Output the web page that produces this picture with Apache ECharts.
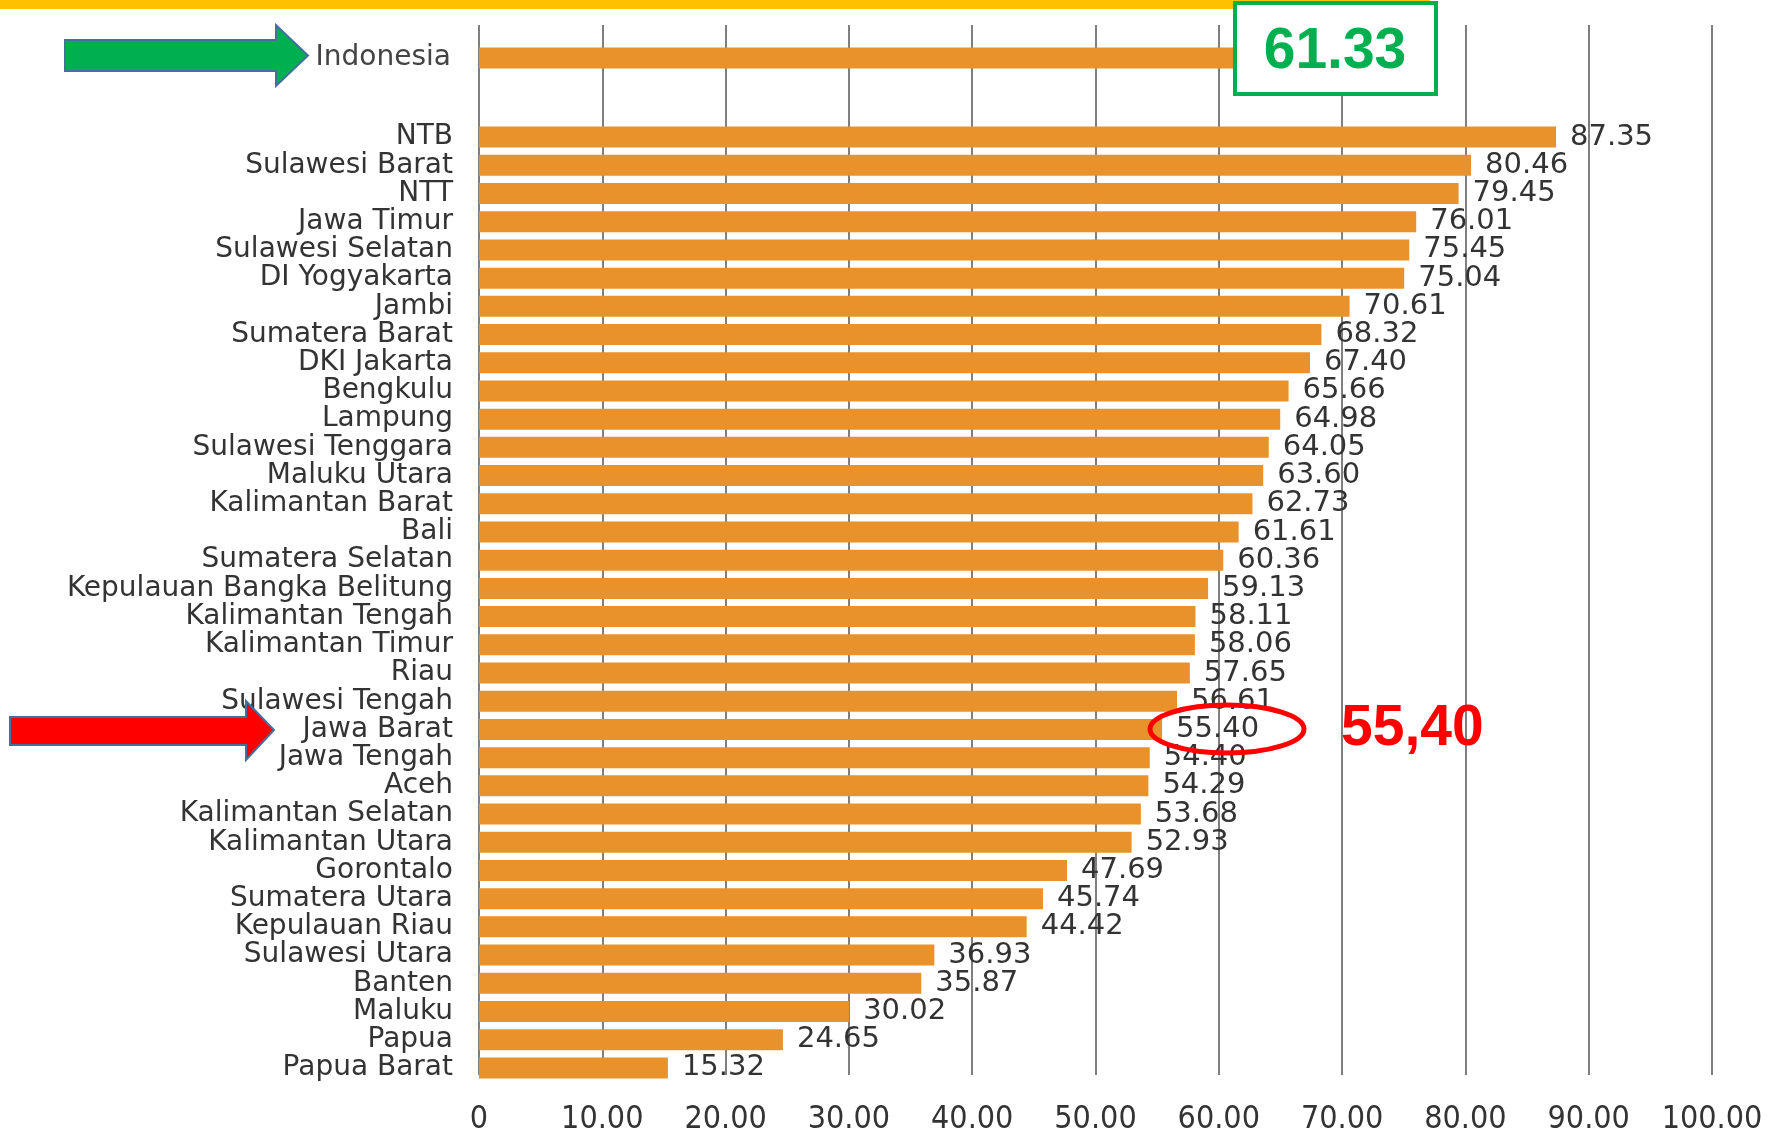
<!DOCTYPE html>
<html>
<head>
<meta charset="utf-8">
<script src="https://cdn.jsdelivr.net/npm/echarts@6/dist/echarts.min.js"></script>
<style>
html,body{margin:0;padding:0;background:#fff;}
#chart{width:1790px;height:1136px;}
</style>
</head>
<body>
<div id="chart"></div>
<script>
const nationalLabel = 'Indonesia';
const nationalValue = 61.33;

const provinces = [
  'NTB','Sulawesi Barat','NTT','Jawa Timur','Sulawesi Selatan','DI Yogyakarta','Jambi',
  'Sumatera Barat','DKI Jakarta','Bengkulu','Lampung','Sulawesi Tenggara','Maluku Utara',
  'Kalimantan Barat','Bali','Sumatera Selatan','Kepulauan Bangka Belitung','Kalimantan Tengah',
  'Kalimantan Timur','Riau','Sulawesi Tengah','Jawa Barat','Jawa Tengah','Aceh',
  'Kalimantan Selatan','Kalimantan Utara','Gorontalo','Sumatera Utara','Kepulauan Riau',
  'Sulawesi Utara','Banten','Maluku','Papua','Papua Barat'
];
const provinceValues = [
  87.35,80.46,79.45,76.01,75.45,75.04,70.61,
  68.32,67.40,65.66,64.98,64.05,63.60,
  62.73,61.61,60.36,59.13,58.11,
  58.06,57.65,56.61,55.40,54.40,54.29,
  53.68,52.93,47.69,45.74,44.42,
  36.93,35.87,30.02,24.65,15.32
];
const xTickLabels = ['0','10.00','20.00','30.00','40.00','50.00','60.00','70.00','80.00','90.00','100.00'];
const highlightProvince = 'Jawa Barat';

const BAR = '#E9922B';
const FONT = "'DejaVu Sans', sans-serif";

const chart = echarts.init(document.getElementById('chart'), null, {renderer:'canvas'});
const hv = provinceValues[provinces.indexOf(highlightProvince)];

chart.setOption({
  backgroundColor:'#ffffff',
  animation:false,
  grid:[
    {left:479, right:78, top:25, bottom:46},
    {left:479, right:78, top:44, height:28},
    {left:479, right:78, top:123, height:959}
  ],
  xAxis:[
    {gridIndex:0, type:'value', min:0, max:100, interval:10,
     axisLine:{show:false}, axisTick:{show:false},
     splitLine:{show:true, lineStyle:{color:'#555', width:1.5}},
     axisLabel:{formatter:v=>xTickLabels[Math.round(v/10)], fontSize:32,
       fontFamily:"'DejaVu Sans Condensed','DejaVu Sans',sans-serif", color:'#333', margin:29}},
    {gridIndex:1, type:'value', min:0, max:100, show:false},
    {gridIndex:2, type:'value', min:0, max:100, show:false}
  ],
  yAxis:[
    {gridIndex:0, type:'value', min:0, max:1, show:false},
    {gridIndex:1, type:'category', data:[nationalLabel],
     axisLine:{show:false}, axisTick:{show:false},
     axisLabel:{fontSize:28, fontFamily:FONT, color:'#444', margin:28}},
    {gridIndex:2, type:'category', inverse:true, data:provinces,
     axisLine:{show:false}, axisTick:{show:false},
     axisLabel:{fontSize:28, fontFamily:FONT, color:'#333', margin:26, interval:0}}
  ],
  series:[
    {type:'bar', xAxisIndex:1, yAxisIndex:1, data:[nationalValue], barWidth:21,
     itemStyle:{color:BAR}},
    {type:'bar', xAxisIndex:2, yAxisIndex:2, data:provinceValues, barWidth:21,
     itemStyle:{color:BAR},
     label:{show:true, position:'right', distance:14, formatter:p=>p.value.toFixed(2),
       fontSize:29, fontFamily:FONT, color:'#333'}}
  ],
  graphic:[
    {type:'rect', z:100, shape:{x:0, y:0, width:1430, height:9}, style:{fill:'#FFC000'}},
    {type:'rect', z:101, shape:{x:1235, y:3, width:201, height:91},
     style:{fill:'#ffffff', stroke:'#00B050', lineWidth:4}},
    {type:'text', z:102, style:{text:nationalValue.toFixed(2), x:1335, y:52,
      font:"bold 57px 'Liberation Sans', Arial, sans-serif", fill:'#00B050',
      align:'center', verticalAlign:'middle', textAlign:'center', textVerticalAlign:'middle'}},
    {type:'polygon', z:100, shape:{points:[[65,40],[276,40],[276,25],[308,55.5],[276,86],[276,71],[65,71]]},
     style:{fill:'#00B050', stroke:'#41719C', lineWidth:2}},
    {type:'polygon', z:100, shape:{points:[[10,717],[246,717],[246,701],[274,730],[246,760],[246,745],[10,745]]},
     style:{fill:'#FF0000', stroke:'#41719C', lineWidth:2}},
    {type:'ellipse', z:100, shape:{cx:1227, cy:729, rx:77, ry:24},
     style:{fill:null, stroke:'#FF0000', lineWidth:5}},
    {type:'text', z:102, style:{text:hv.toFixed(2).replace('.', ','), x:1341, y:729,
      font:"bold 57px 'Liberation Sans', Arial, sans-serif", fill:'#FF0000',
      align:'left', verticalAlign:'middle', textAlign:'left', textVerticalAlign:'middle'}}
  ]
});
</script>
</body>
</html>
